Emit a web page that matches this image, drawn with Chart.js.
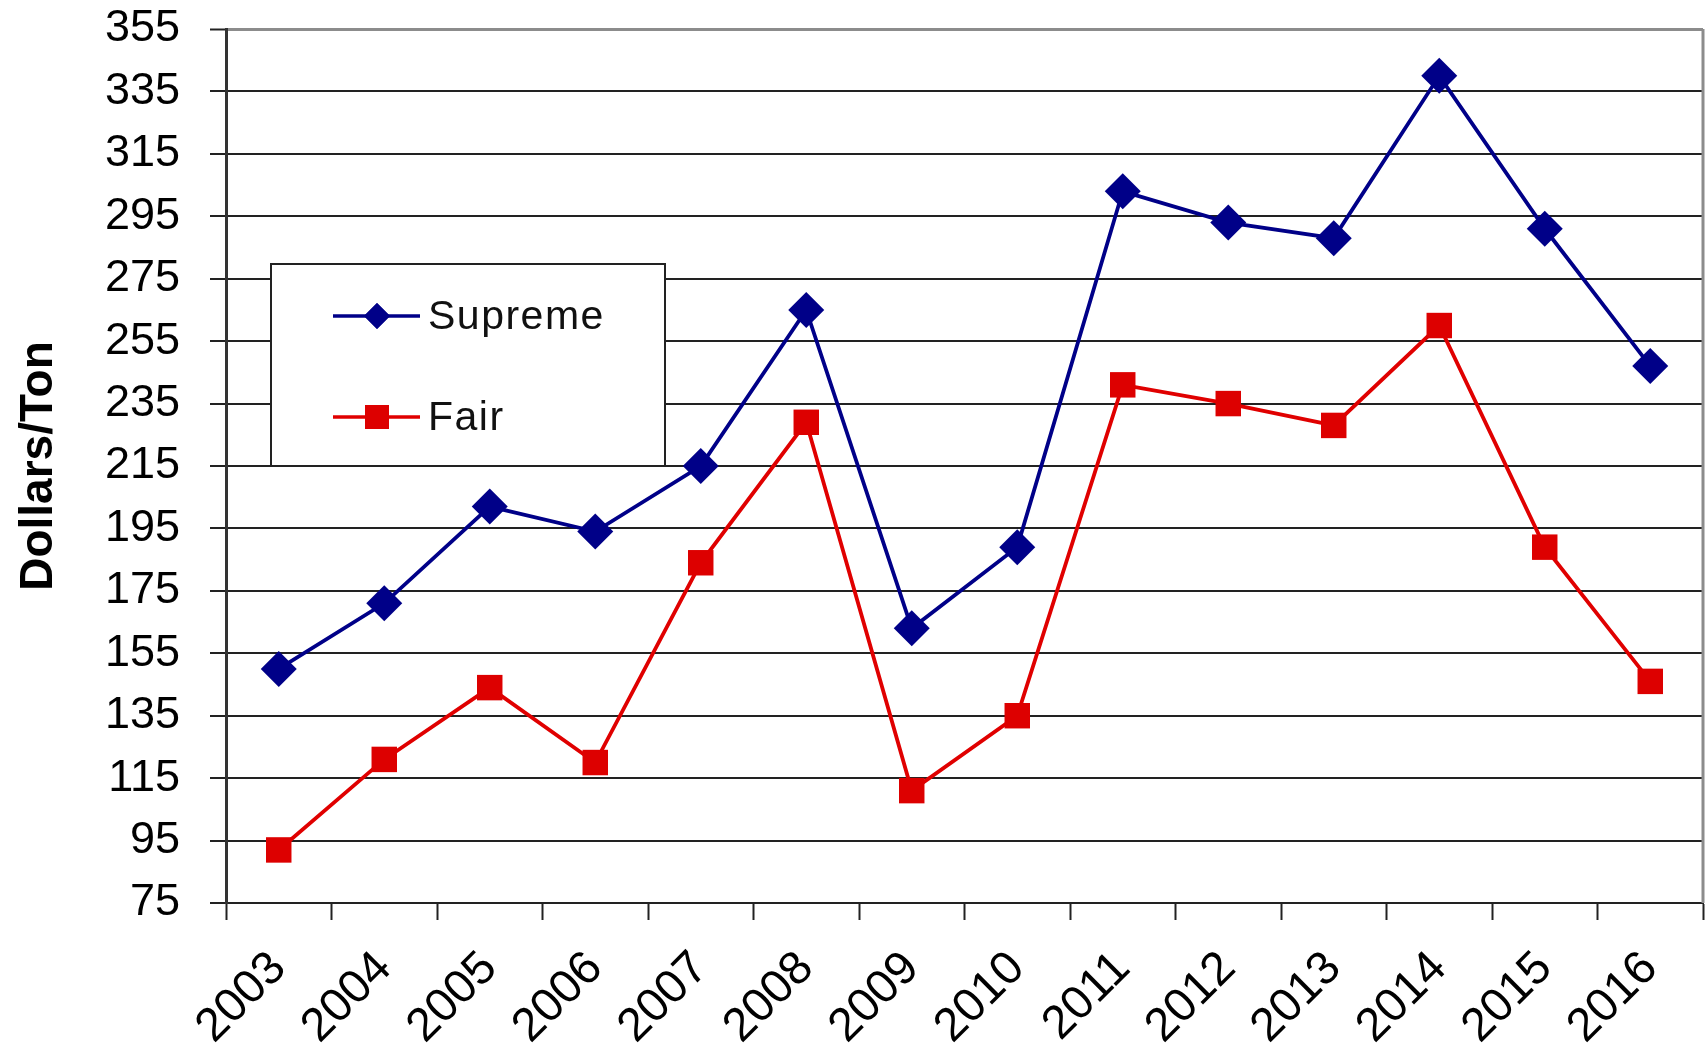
<!DOCTYPE html>
<html>
<head>
<meta charset="utf-8">
<script src="https://cdn.jsdelivr.net/npm/chart.js@4"></script>
<style>
	html, body { margin: 0; padding: 0; background: #fff; }
	#wrap { width: 1705px; height: 1046px; }
</style>
</head>
<body>
<div id="wrap"><canvas id="hayChart" width="1705" height="1046"></canvas></div>
<script>
// 연도
const years = ['2003', '2004', '2005', '2006', '2007', '2008', '2009', '2010', '2011', '2012', '2013', '2014', '2015', '2016'];
// 가격 (Dollars/Ton)
const supremeValues = [150, 171, 202, 194, 215, 265, 163, 189, 303, 293, 288, 340, 291, 247];
const fairValues = [92, 121, 144, 120, 184, 229, 111, 135, 241, 235, 228, 260, 189, 146];
// y축 눈금
const yMin = 75;
const yMax = 355;
const yStep = 20;

const FONT = "'Liberation Sans', Arial, sans-serif";

// 차트 안쪽 범례 박스 + 오른쪽 테두리
const boxLegend = {
	id: 'boxLegend',
	afterDraw(chart) {
		const ctx = chart.ctx;
		const area = chart.chartArea;

		// 오른쪽 테두리 (회색)
		ctx.save();
		ctx.strokeStyle = '#8c8c8c';
		ctx.lineWidth = 3;
		ctx.beginPath();
		ctx.moveTo(area.right, area.top);
		ctx.lineTo(area.right, area.bottom);
		ctx.stroke();

		// 범례 박스
		const bx = 271, by = 264, bw = 394, bh = 202;
		ctx.fillStyle = '#fff';
		ctx.fillRect(bx, by, bw, bh);
		ctx.strokeStyle = '#222';
		ctx.lineWidth = 2;
		ctx.strokeRect(bx, by, bw, bh);

		const rows = [
			{ ds: chart.data.datasets[0], y: 316, style: 'rectRot', r: 13 },
			{ ds: chart.data.datasets[1], y: 417, style: 'rect', r: 17 }
		];
		rows.forEach(row => {
			ctx.strokeStyle = row.ds.borderColor;
			ctx.lineWidth = 3.5;
			ctx.beginPath();
			ctx.moveTo(333, row.y);
			ctx.lineTo(420, row.y);
			ctx.stroke();
			ctx.fillStyle = row.ds.backgroundColor;
			Chart.helpers.drawPoint(ctx, { pointStyle: row.style, radius: row.r, borderWidth: 0, rotation: 0 }, 377, row.y);
			ctx.fill();

			ctx.fillStyle = '#111';
			ctx.font = `41px ${FONT}`;
			ctx.textAlign = 'left';
			ctx.textBaseline = 'middle';
			ctx.letterSpacing = '1.5px';
			ctx.fillText(row.ds.label, 428, row.y + 2);
		});
		ctx.restore();
	}
};

const ctx = document.getElementById('hayChart').getContext('2d');
new Chart(ctx, {
	type: 'line',
	data: {
		labels: years,
		datasets: [
			{
				label: 'Supreme',
				data: supremeValues,
				borderColor: '#000088',
				backgroundColor: '#000088',
				borderWidth: 3.8,
				pointStyle: 'rectRot',
				pointRadius: 18,
				pointBorderWidth: 0,
				tension: 0
			},
			{
				label: 'Fair',
				data: fairValues,
				borderColor: '#e00000',
				backgroundColor: '#dd0000',
				borderWidth: 3.8,
				pointStyle: 'rect',
				pointRadius: 18,
				pointBorderWidth: 0,
				tension: 0
			}
		]
	},
	options: {
		responsive: false,
		animation: false,
		layout: {
			autoPadding: false,
			padding: { top: 29, right: 2, left: 0, bottom: 0 }
		},
		plugins: {
			legend: { display: false },
			tooltip: { enabled: false }
		},
		scales: {
			x: {
				offset: true,
				grid: {
					offset: true,
					drawOnChartArea: false,
					drawTicks: true,
					tickLength: 17,
					tickColor: '#222',
					tickWidth: 2
				},
				border: { color: '#222', width: 2 },
				ticks: {
					color: '#000',
					font: { family: FONT, size: 47 },
					maxRotation: 45,
					minRotation: 45,
					padding: 21,
					autoSkip: false
				},
				afterFit(scale) {
					scale.height = 143;
					scale.paddingLeft = 0;
					scale.paddingRight = 0;
				}
			},
			y: {
				min: yMin,
				max: yMax,
				grid: {
					color: c => (c.tick && c.tick.value === yMax ? '#8c8c8c' : '#222'),
					lineWidth: c => (c.tick && c.tick.value === yMax ? 3 : 2),
					tickColor: '#222',
					tickLength: 16,
					tickWidth: 2
				},
				border: { color: '#333', width: 3 },
				ticks: {
					stepSize: yStep,
					color: '#000',
					font: { family: FONT, size: 45 },
					padding: 30
				},
				title: {
					display: true,
					text: 'Dollars/Ton',
					color: '#000',
					font: { family: FONT, size: 46, weight: 'bold' },
					padding: { top: 12, bottom: 0 }
				},
				afterFit(scale) {
					scale.width = 226;
					scale.paddingTop = 0;
					scale.paddingBottom = 0;
				}
			}
		}
	},
	plugins: [boxLegend]
});
</script>
</body>
</html>
